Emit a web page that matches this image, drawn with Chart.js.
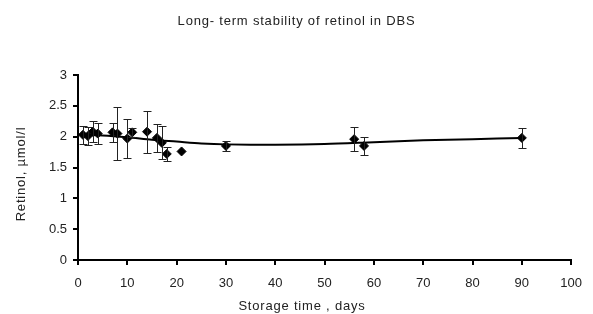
<!DOCTYPE html>
<html>
<head>
<meta charset="utf-8">
<script src="https://cdn.jsdelivr.net/npm/chart.js@4/dist/chart.umd.min.js"></script>
<style>
  html, body { margin: 0; padding: 0; background: #fff; }
  #wrap { width: 593px; height: 314px; }
</style>
</head>
<body>
<div id="wrap"><canvas id="myChart" width="593" height="314"></canvas></div>
<script>
// storage day, retinol µmol/l, +/- error
const days = [1, 2, 3, 4, 7, 8, 10, 11, 14, 16, 17, 18, 21, 30, 56, 58, 90];
const retinol = [2.03, 2.01, 2.08, 2.05, 2.07, 2.05, 1.97, 2.07, 2.08, 1.98, 1.90, 1.72, 1.76, 1.85, 1.96, 1.85, 1.98];
const errors = [0.15, 0.15, 0.17, 0.165, 0.155, 0.43, 0.32, 0.07, 0.34, 0.23, 0.27, 0.12, 0, 0.08, 0.2, 0.15, 0.16];

// trend line
const trendDays = [1, 5, 10, 15, 20, 25, 30, 40, 50, 60, 70, 80, 90];
const trendValues = [2.03, 2.02, 1.99, 1.95, 1.92, 1.89, 1.875, 1.87, 1.88, 1.91, 1.94, 1.96, 1.98];

const xTicks = [0, 10, 20, 30, 40, 50, 60, 70, 80, 90, 100];

const chartTitle = 'Long- term stability of retinol in DBS';
const xTitle = 'Storage time , days';
const yTitle = 'Retinol, µmol/l';

const points = days.map((d, i) => ({ x: d, y: retinol[i] }));
const trend = trendDays.map((d, i) => ({ x: d, y: trendValues[i] }));

const fontFamily = 'Arial, "Liberation Sans", sans-serif';

const errorBars = {
    id: 'errorBars',
    afterDatasetsDraw(chart) {
        const ctx = chart.ctx;
        const xs = chart.scales.x;
        const ys = chart.scales.y;
        ctx.save();
        ctx.strokeStyle = '#222';
        ctx.lineWidth = 1;
        days.forEach((d, i) => {
            const e = errors[i];
            if (!e) return;
            const px = Math.round(xs.getPixelForValue(d)) + 0.5;
            const top = Math.round(ys.getPixelForValue(retinol[i] + e)) + 0.5;
            const bot = Math.round(ys.getPixelForValue(retinol[i] - e)) + 0.5;
            ctx.beginPath();
            ctx.moveTo(px, top);
            ctx.lineTo(px, bot);
            ctx.moveTo(px - 4, top);
            ctx.lineTo(px + 4, top);
            ctx.moveTo(px - 4, bot);
            ctx.lineTo(px + 4, bot);
            ctx.stroke();
        });
        ctx.restore();
    }
};

// titles drawn with the wider letter spacing of the original
const titles = {
    id: 'titles',
    afterDraw(chart) {
        const ctx = chart.ctx;
        ctx.save();
        ctx.fillStyle = '#222';
        ctx.font = '13px ' + fontFamily;
        ctx.letterSpacing = '0.8px';
        ctx.textAlign = 'center';
        ctx.textBaseline = 'middle';
        ctx.fillText(chartTitle, chart.width / 2, 21);
        ctx.fillText(xTitle, 302, 306);
        ctx.translate(21, 174);
        ctx.rotate(-Math.PI / 2);
        ctx.fillText(yTitle, 0, 0);
        ctx.restore();
    }
};

const tickFont = { family: fontFamily, size: 13 };

new Chart(document.getElementById('myChart'), {
    type: 'scatter',
    data: {
        datasets: [{
            label: 'retinol',
            data: points,
            pointStyle: 'rectRot',
            pointRadius: 4.5,
            backgroundColor: '#000',
            borderColor: '#000',
            showLine: false,
            order: 1
        }, {
            label: 'trend',
            data: trend,
            showLine: true,
            pointRadius: 0,
            borderColor: '#000',
            borderWidth: 2,
            tension: 0.3,
            order: 2
        }]
    },
    options: {
        responsive: false,
        animation: false,
        layout: { padding: { left: 0, right: 13, top: 75, bottom: 0 } },
        plugins: {
            legend: { display: false },
            tooltip: { enabled: false },
            title: { display: false }
        },
        scales: {
            x: {
                type: 'linear',
                min: 0,
                max: 100,
                afterBuildTicks: (axis) => { axis.ticks = xTicks.map(v => ({ value: v })); },
                afterFit: (axis) => { axis.height = 54; },
                border: { color: '#000', width: 2 },
                grid: { drawOnChartArea: false, tickLength: 5, color: '#000', lineWidth: 2 },
                ticks: { color: '#222', font: tickFont, padding: 11, maxRotation: 0 }
            },
            y: {
                min: 0,
                max: 3,
                afterFit: (axis) => { axis.width = 78; },
                border: { color: '#000', width: 2 },
                grid: { drawOnChartArea: false, tickLength: 5, color: '#000', lineWidth: 2 },
                ticks: {
                    stepSize: 0.5,
                    color: '#222',
                    font: tickFont,
                    padding: 6,
                    callback: (v) => String(v)
                }
            }
        }
    },
    plugins: [errorBars, titles]
});
</script>
</body>
</html>
